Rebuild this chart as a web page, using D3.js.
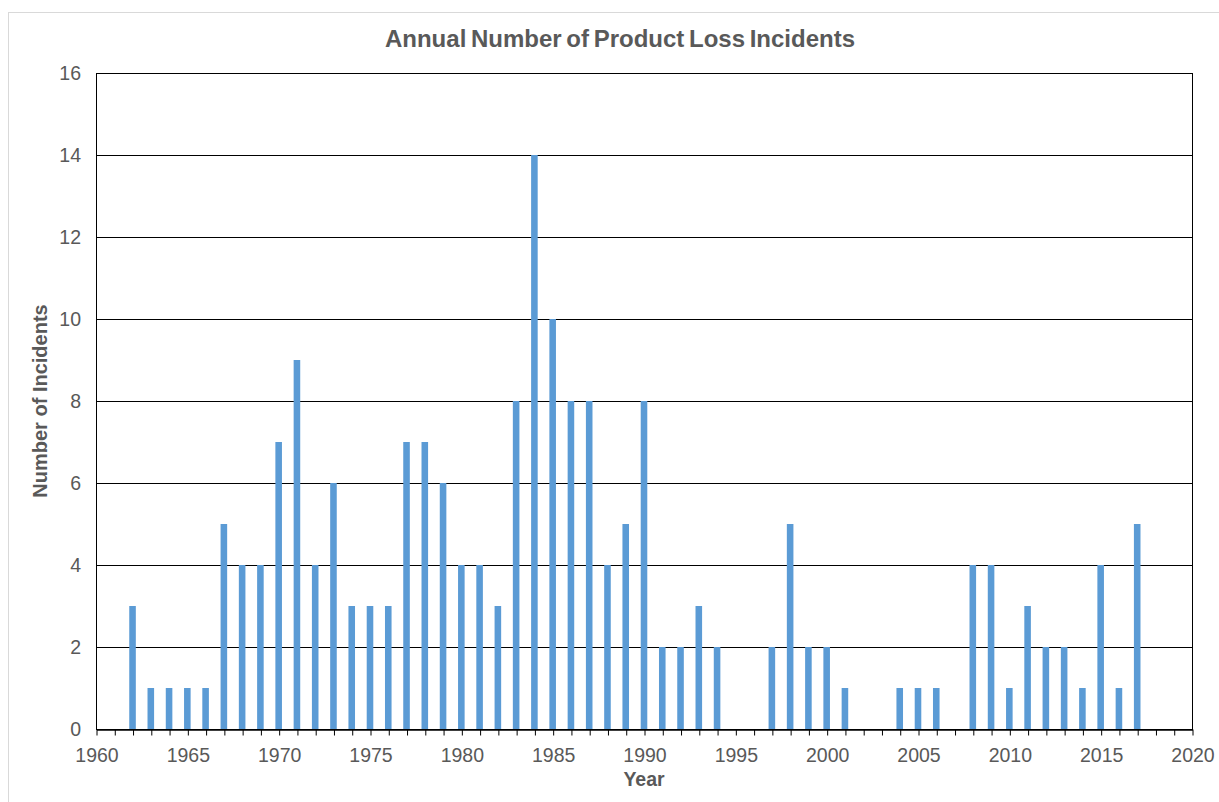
<!DOCTYPE html>
<html>
<head>
<meta charset="utf-8">
<script src="https://cdn.jsdelivr.net/npm/d3@7"></script>
<style>
  html, body { margin: 0; padding: 0; background: #fff; }
  svg { display: block; font-family: "Liberation Sans", Arial, sans-serif; }
</style>
</head>
<body>
<svg id="chart" width="1219" height="802"></svg>
<script>
// Annual incident counts, one entry per year
const years = [
  1962, 1963, 1964, 1965, 1966, 1967, 1968, 1969, 1970, 1971,
  1972, 1973, 1974, 1975, 1976, 1977, 1978, 1979, 1980, 1981,
  1982, 1983, 1984, 1985, 1986, 1987, 1988, 1989, 1990, 1991,
  1992, 1993, 1994, 1995, 1996, 1997, 1998, 1999, 2000, 2001,
  2002, 2003, 2004, 2005, 2006, 2007, 2008, 2009, 2010, 2011,
  2012, 2013, 2014, 2015, 2016, 2017
];
const incidents = [
  3, 1, 1, 1, 1, 5, 4, 4, 7, 9,
  4, 6, 3, 3, 3, 7, 7, 6, 4, 4,
  3, 8, 14, 10, 8, 8, 4, 5, 8, 2,
  2, 3, 2, 0, 0, 2, 5, 2, 2, 1,
  0, 0, 1, 1, 1, 0, 4, 4, 1, 3,
  2, 2, 1, 4, 1, 5
];
const xTickLabels = [1960, 1965, 1970, 1975, 1980, 1985, 1990, 1995, 2000, 2005, 2010, 2015, 2020];
const yTickLabels = [0, 2, 4, 6, 8, 10, 12, 14, 16];

const titleText = "Annual Number of Product Loss Incidents";
const xTitle = "Year";
const yTitle = "Number of Incidents";

const svg = d3.select("#chart");
const W = 1219, H = 802;
const plot = { left: 96, right: 1192, top: 73, bottom: 729 };

const x = d3.scaleLinear().domain([1960, 2020]).range([plot.left, plot.right]);
const y = d3.scaleLinear().domain([0, 16]).range([plot.bottom, plot.top]);

const textColor = "#595959";
const barColor = "#5B9BD5";

// chart area frame
svg.append("rect")
  .attr("x", 8.5).attr("y", 12.5)
  .attr("width", W + 20).attr("height", H + 20)
  .attr("fill", "#fff")
  .attr("stroke", "#d9d9d9")
  .attr("stroke-width", 1);

// horizontal gridlines
svg.append("g")
  .selectAll("line")
  .data(yTickLabels.filter(v => v > 0 && v < 16))
  .join("line")
  .attr("x1", plot.left).attr("x2", plot.right)
  .attr("y1", d => Math.round(y(d)) + 0.5)
  .attr("y2", d => Math.round(y(d)) + 0.5)
  .attr("stroke", "#000")
  .attr("stroke-width", 1);

// bars
const data = years.map((yr, i) => ({ year: yr, value: incidents[i] }));
const barW = (x(1961) - x(1960)) * 0.36;
svg.append("g")
  .selectAll("rect")
  .data(data.filter(d => d.value > 0))
  .join("rect")
  .attr("x", d => x(d.year) - barW / 2)
  .attr("width", barW)
  .attr("y", d => y(d.value))
  .attr("height", d => y(0) - y(d.value))
  .attr("fill", barColor);

// plot border
svg.append("rect")
  .attr("x", plot.left + 0.5).attr("y", plot.top + 0.5)
  .attr("width", plot.right - plot.left)
  .attr("height", plot.bottom - plot.top)
  .attr("fill", "none")
  .attr("stroke", "#000")
  .attr("stroke-width", 1);

// x axis: a tick every year, labels every five years
const xAxis = d3.axisBottom(x)
  .tickValues(d3.range(1960, 2021))
  .tickSize(6)
  .tickSizeOuter(0)
  .tickFormat(d => xTickLabels.includes(d) ? String(d) : "");
const gx = svg.append("g")
  .attr("transform", `translate(0.5,${plot.bottom + 0.5})`)
  .call(xAxis);
gx.select(".domain").attr("stroke", "#000").attr("stroke-width", 1.5);
gx.selectAll(".tick line").attr("stroke", "#000");
gx.selectAll(".tick text")
  .attr("fill", textColor)
  .attr("font-size", 19.5)
  .attr("font-family", "Liberation Sans, Arial, sans-serif")
  .attr("y", 0).attr("dy", null)
  .attr("transform", "translate(0,32)");

// y axis labels
const yAxis = d3.axisLeft(y)
  .tickValues(yTickLabels)
  .tickSize(0)
  .tickPadding(15)
  .tickFormat(d3.format("d"));
const gy = svg.append("g")
  .attr("transform", `translate(${plot.left},0)`)
  .call(yAxis);
gy.select(".domain").remove();
gy.selectAll(".tick text")
  .attr("fill", textColor)
  .attr("font-size", 19.5)
  .attr("font-family", "Liberation Sans, Arial, sans-serif");

// titles
svg.append("text")
  .attr("x", 620).attr("y", 47)
  .attr("text-anchor", "middle")
  .attr("font-size", 24)
  .attr("font-weight", "bold")
  .attr("fill", textColor)
  .attr("word-spacing", -2)
  .text(titleText);

svg.append("text")
  .attr("x", (plot.left + plot.right) / 2).attr("y", 786)
  .attr("text-anchor", "middle")
  .attr("font-size", 19.5)
  .attr("font-weight", "bold")
  .attr("fill", textColor)
  .text(xTitle);

svg.append("text")
  .attr("transform", `translate(47,${(plot.top + plot.bottom) / 2}) rotate(-90)`)
  .attr("text-anchor", "middle")
  .attr("font-size", 20)
  .attr("font-weight", "bold")
  .attr("fill", textColor)
  .text(yTitle);
</script>
</body>
</html>
